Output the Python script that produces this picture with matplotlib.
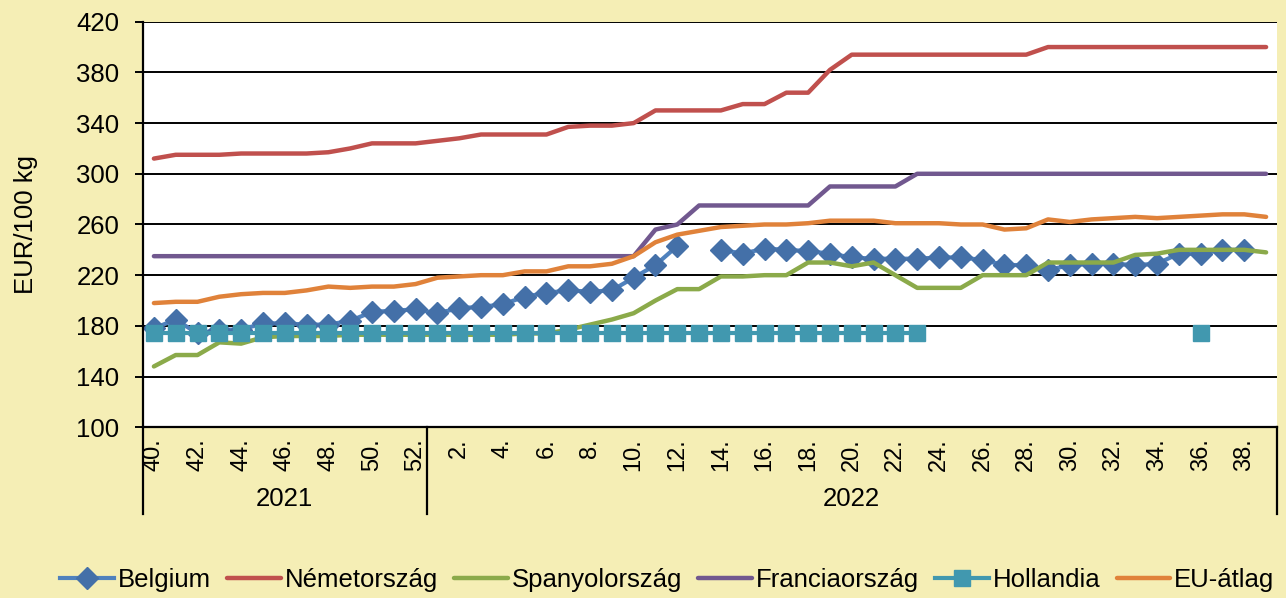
import matplotlib.pyplot as plt
import numpy as np

plt.rcParams['font.family'] = ['Liberation Sans', 'DejaVu Sans']

# data (weekly prices, EUR/100 kg)
######################################################################
weeks = [40, 41, 42, 43, 44, 45, 46, 47, 48, 49, 50, 51, 52,
         1, 2, 3, 4, 5, 6, 7, 8, 9, 10, 11, 12, 13, 14, 15, 16, 17, 18, 19, 20,
         21, 22, 23, 24, 25, 26, 27, 28, 29, 30, 31, 32, 33, 34, 35, 36, 37, 38, 39]
years = ['2021', '2022']
year_len = [13, 39]

nan = np.nan
belgium = [178, 185, 174, 177, 177, 182, 182, 181, 181, 184, 191, 192, 193,
           190, 194, 195, 197, 203, 206, 208, 207, 208, 218, 228, 243, nan,
           240, 237, 241, 240, 239, 237, 234, 233, 233, 233, 234, 234, 232,
           228, 228, 224, 228, 229, 229, 228, 229, 237, 237, 240, 240, nan]
nemetorszag = [312, 315, 315, 315, 316, 316, 316, 316, 317, 320, 324, 324, 324,
               326, 328, 331, 331, 331, 331, 337, 338, 338, 340, 350, 350, 350,
               350, 355, 355, 364, 364, 382, 394, 394, 394, 394, 394, 394, 394,
               394, 394, 400, 400, 400, 400, 400, 400, 400, 400, 400, 400, 400]
spanyolorszag = [148, 157, 157, 167, 166, 171, 172, 172, 172, 173, 173, 173, 173,
                 173, 173, 173, 173, 174, 174, 177, 181, 185, 190, 200, 209, 209,
                 219, 219, 220, 220, 230, 230, 227, 230, 220, 210, 210, 210, 220,
                 220, 220, 230, 230, 230, 230, 236, 237, 240, 240, 240, 240, 238]
franciaorszag = [235, 235, 235, 235, 235, 235, 235, 235, 235, 235, 235, 235, 235,
                 235, 235, 235, 235, 235, 235, 235, 235, 235, 235, 256, 260, 275,
                 275, 275, 275, 275, 275, 290, 290, 290, 290, 300, 300, 300, 300,
                 300, 300, 300, 300, 300, 300, 300, 300, 300, 300, 300, 300, 300]
hollandia = [174, 174, 174, 174, 174, 174, 174, 174, 174, 174, 174, 174, 174,
             174, 174, 174, 174, 174, 174, 174, 174, 174, 174, 174, 174, 174,
             174, 174, 174, 174, 174, 174, 174, 174, 174, 174, nan, nan, nan,
             nan, nan, nan, nan, nan, nan, nan, nan, nan, 174, nan, nan, nan]
eu_atlag = [198, 199, 199, 203, 205, 206, 206, 208, 211, 210, 211, 211, 213,
            218, 219, 220, 220, 223, 223, 227, 227, 229, 235, 246, 252, 255,
            258, 259, 260, 260, 261, 263, 263, 263, 261, 261, 261, 260, 260,
            256, 257, 264, 262, 264, 265, 266, 265, 266, 267, 268, 268, 266]
######################################################################

bg = '#F5EEB5'
fs = 18.5

fig = plt.figure(figsize=(12.86, 5.98), dpi=100, facecolor=bg)
ax = fig.add_axes([0.1112, 0.2855, 0.8818, 0.6782])
ax.set_facecolor('white')

x = np.arange(len(weeks))

ax.plot(x, belgium, color='#4F81BD', lw=3, marker='D', ms=11.5,
        mfc='#4470A8', mec='#4470A8', label='Belgium')
ax.plot(x, nemetorszag, color='#C0504D', lw=3.2, solid_capstyle='round', label='Németország')
ax.plot(x, spanyolorszag, color='#8BAA4A', lw=3.2, solid_capstyle='round', label='Spanyolország')
ax.plot(x, franciaorszag, color='#71588F', lw=3.2, solid_capstyle='round', label='Franciaország')
ax.plot(x, hollandia, color='#4198AF', lw=3, marker='s', ms=11,
        mfc='#4198AF', mec='#4198AF', label='Hollandia')
ax.plot(x, eu_atlag, color='#E0823A', lw=3.2, solid_capstyle='round', label='EU-átlag')

# y axis
ax.set_ylim(100, 420)
ax.set_yticks(np.arange(100, 421, 40))
ax.yaxis.grid(True, color='black', lw=1.4)
ax.set_axisbelow(True)
ax.tick_params(axis='y', labelsize=fs, length=6, width=1.4, pad=11, direction='out')
ax.set_ylabel('EUR/100 kg', fontsize=fs)
ax.yaxis.set_label_coords(-0.093, 0.5)

# x axis: only even weeks get a label
ax.set_xlim(-0.5, len(weeks) - 0.5)
ev = [i for i, w in enumerate(weeks) if w % 2 == 0]
ax.set_xticks(ev)
ax.set_xticklabels([f'{weeks[i]}.' for i in ev], rotation=90, fontsize=17, va='top')
ax.tick_params(axis='x', length=0, pad=8)

for s in ['top', 'right']:
    ax.spines[s].set_visible(False)
ax.spines['left'].set_linewidth(1.6)
ax.spines['bottom'].set_linewidth(1.6)

# year groups below the week labels
trans = ax.get_xaxis_transform()
start = -0.5
bounds = [start]
for n, yr in zip(year_len, years):
    end = start + n
    ax.text((start + end) / 2, -0.177, yr, transform=trans, ha='center', va='center', fontsize=fs)
    bounds.append(end)
    start = end
for b in bounds:
    ax.plot([b, b], [0, -0.215], transform=trans, color='black', lw=1.6, clip_on=False)

handles, labels = ax.get_legend_handles_labels()
fig.legend(handles, labels, loc='center', bbox_to_anchor=(0.519, 0.03), ncol=6,
           frameon=False, fontsize=fs, handlelength=2.1, handletextpad=0.15,
           columnspacing=0.62, borderaxespad=0)

fig.savefig('out.png', dpi=100, facecolor=bg)
